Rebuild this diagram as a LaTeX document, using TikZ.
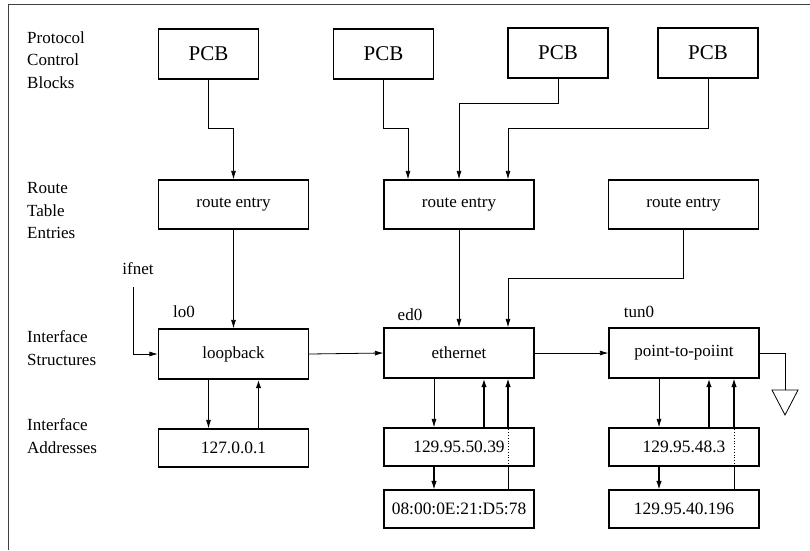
\documentclass[tikz,border=0pt]{standalone}
\usepackage{fontspec}
\setmainfont{Liberation Serif}
\usetikzlibrary{arrows.meta,calc}
\begin{document}
\begin{tikzpicture}[x=1pt,y=-1pt,
  box/.style={draw,line width=1.2pt,minimum width=150pt,inner sep=0pt,font=\fontsize{17}{20}\selectfont},
  pcbbox/.style={box,minimum width=100pt,minimum height=50pt,font=\fontsize{21}{24}\selectfont},
  rtbox/.style={box,minimum height=49pt},
  ifbox/.style={box,minimum height=50pt},
  addrbox/.style={box,minimum height=38pt,font=\fontsize{17.4}{20}\selectfont},
  thin/.style={line width=0.8pt},
  conn/.style={thin,-{Latex[length=8.5pt,width=5pt]}},
  upconn/.style={line width=1.6pt,-{Latex[length=8.5pt,width=5.5pt]}},
  midconn/.style={line width=1.1pt,-{Latex[length=8.5pt,width=5.5pt]}},
  lbl/.style={font=\fontsize{17}{22.5}\selectfont,align=left,anchor=west,inner sep=0pt},
  tag/.style={font=\fontsize{17}{20}\selectfont,inner sep=0pt}]
\useasboundingbox (0,0) rectangle (810,550);

% frame
\draw[line width=1pt,black!75] (8,550) -- (8,4) -- (810,4);

% row labels
\node[lbl] (rowpcb) at (27,60) {Protocol\\Control\\Blocks};
\node[lbl] (rowrt) at (27,211) {Route\\Table\\Entries};
\node[lbl] (rowif) at (27,348) {Interface\\Structures};
\node[lbl] (rowad) at (27,436) {Interface\\Addresses};

% protocol control blocks
\node[pcbbox] (pcb1) at (208.5,54) {PCB};
\node[pcbbox] (pcb2) at (383.5,54) {PCB};
\node[pcbbox] (pcb3) at (558,53) {PCB};
\node[pcbbox] (pcb4) at (708,53) {PCB};

% route table entries
\node[rtbox] (re1) at (233.5,204.5) {route entry};
\node[rtbox] (re2) at (459,204.5) {route entry};
\node[rtbox] (re3) at (683.5,204.5) {route entry};

% interface structures
\node[ifbox] (lo) at (233.5,354) {loopback};
\node[ifbox] (eth) at (459,353) {ethernet};
\node[ifbox] (ptp) at (684,353) {point-to-poiint};
\node[tag] (lotag) at (184,312) {lo0};
\node[tag] (ethtag) at (410,315) {ed0};
\node[tag] (ptptag) at (639,312) {tun0};
\node[tag] (ifnet) at (138,269) {ifnet};
\coordinate (ifnetstart) at (133,287);

% interface addresses
\node[addrbox] (a1) at (233.5,448) {127.0.0.1};
\node[addrbox] (a2) at (459,447) {129.95.50.39};
\node[addrbox] (a3) at (459,509) {08:00:0E:21:D5:78};
\node[addrbox] (a4) at (684,447) {129.95.48.3};
\node[addrbox] (a5) at (684,509) {129.95.40.196};

% PCB -> route entry
\draw[conn] (pcb1.south) -- ++(0,49) -| (re1.north);
\draw[conn] (pcb2.south) -- ++(0,49) -| ([xshift=-51pt]re2.north);
\draw[conn] (pcb3.south) -- ++(0,25) -| (re2.north);
\draw[conn] (pcb4.south) -- ++(0,50) -| ([xshift=49pt]re2.north);

% route entry -> interface
\draw[conn] (re1.south) -- (lo.north);
\draw[conn] (re2.south) -- (eth.north);
\draw[conn] (re3.south) -- ++(0,49) -| ([xshift=49pt]eth.north);

% ifnet list
\draw[conn] (ifnetstart) |- (lo.west);
\draw[conn] (lo.east) -- (eth.west);
\draw[conn] (eth.east) -- (ptp.west);
\coordinate (gnd) at (785,390);
\draw[thin] (ptp.east) -| (gnd);
\draw[thin] (gnd) ++(-13,0) -- ++(26,0) -- ++(-13,25) -- cycle;

% loopback addresses
\draw[conn] ([xshift=-25pt]lo.south) -- ([xshift=-25pt]a1.north);
\draw[upconn] ([xshift=25pt]a1.north) -- ([xshift=25pt]lo.south);

% ethernet addresses
\draw[conn] ([xshift=-25pt]eth.south) -- ([xshift=-25pt]a2.north);
\draw[upconn] ([xshift=25pt]a2.north) -- ([xshift=25pt]eth.south);
\draw[midconn] ([xshift=-25pt]a2.south) -- ([xshift=-25pt]a3.north);
\draw[thin] ([xshift=49pt]a3.north) -- ([xshift=49pt]a2.south);
\draw[thin,dotted] ([xshift=49pt]a2.south) -- ([xshift=49pt]a2.north);
\draw[midconn] ([xshift=49pt]a2.north) -- ([xshift=49pt]eth.south);

% point-to-point addresses
\draw[conn] ([xshift=-25pt]ptp.south) -- ([xshift=-25pt]a4.north);
\draw[upconn] ([xshift=25pt]a4.north) -- ([xshift=25pt]ptp.south);
\draw[midconn] ([xshift=-25pt]a4.south) -- ([xshift=-25pt]a5.north);
\draw[thin] ([xshift=50pt]a5.north) -- ([xshift=50pt]a4.south);
\draw[thin,dotted] ([xshift=50pt]a4.south) -- ([xshift=50pt]a4.north);
\draw[midconn] ([xshift=50pt]a4.north) -- ([xshift=50pt]ptp.south);
\end{tikzpicture}
\end{document}
